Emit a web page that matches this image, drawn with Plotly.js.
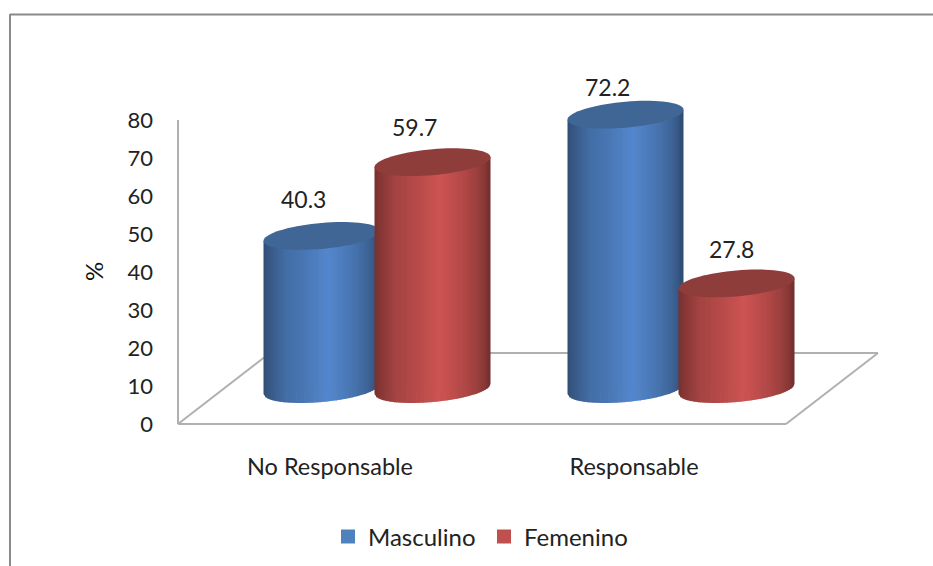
<!DOCTYPE html>
<html>
<head>
<meta charset="utf-8">
<script src="https://cdn.plot.ly/plotly-3.0.1.min.js"></script>
<style>html,body{margin:0;padding:0;background:#fff}#chart{width:933px;height:566px}</style>
</head>
<body>
<div id="chart"></div>
<script>
// Percentages by sex for each responsibility group
var categories = ['No Responsable', 'Responsable'];
var masculino = [40.3, 72.2];
var femenino = [59.7, 27.8];
var axisTicks = [0, 10, 20, 30, 40, 50, 60, 70, 80];

// Scale of the plot area, in pixels per data unit
var PX_X = 304, PX_Y = 3.8;

// Fake 3D floor depth and cylinder proportions, in data units
var FLOOR_DX = 92 / PX_X, FLOOR_DY = 71 / PX_Y;
var LIFT = 9.2;
var HALF_W = 58 / PX_X, RY = 13 / PX_Y, TILT = 5 / PX_Y;
var STRIPS = 64;

// Brightness across a cylinder, from its left edge to its right edge
var shadePos = [0, 0.06, 0.18, 0.35, 0.56, 0.75, 0.9, 1];
var shadeVal = [0.58, 0.66, 0.8, 0.88, 1, 0.88, 0.74, 0.55];

var seriesList = [
  {name: 'Masculino', values: masculino, shift: -8.5 / PX_X, bar: '#4f81bd', light: [83, 135, 204], lid: '#3f6694',
   labelDx: [-18.5, -18.5], labelUp: [36.5, 27.5]},
  {name: 'Femenino', values: femenino, shift: 102.5 / PX_X, bar: '#c0504d', light: [205, 84, 82], lid: '#8f3d3b',
   labelDx: [-18.5, -5], labelUp: [35, 34.5]}
];

function shadeAt(p) {
  for (var i = 1; i < shadePos.length; i++) {
    if (p <= shadePos[i]) {
      var f = (p - shadePos[i - 1]) / (shadePos[i] - shadePos[i - 1]);
      return shadeVal[i - 1] + f * (shadeVal[i] - shadeVal[i - 1]);
    }
  }
  return shadeVal[shadeVal.length - 1];
}

// Lower rim of an ellipse at position u in [-1, 1]
function rimY(cy, u) {
  return cy + TILT * u - RY * Math.sqrt(Math.max(0, 1 - u * u));
}

function cylinderShapes(cx, value, s) {
  var out = [];
  var top = LIFT + value;
  for (var i = 0; i < STRIPS; i++) {
    var u0 = -1 + 2 * i / STRIPS, u1 = -1 + 2 * (i + 1) / STRIPS;
    var ue = i === STRIPS - 1 ? u1 : u1 + 0.012;
    var k = shadeAt((i + 0.5) / STRIPS);
    var col = 'rgb(' + s.light.map(function (c) { return Math.round(c * k); }).join(',') + ')';
    var x0 = cx + HALF_W * u0, x1 = cx + HALF_W * ue;
    var path = 'M' + x0 + ',' + (top + TILT * u0) +
      ' L' + x1 + ',' + (top + TILT * ue) +
      ' L' + x1 + ',' + rimY(LIFT, Math.min(ue, 1)) +
      ' L' + x0 + ',' + rimY(LIFT, u0) + ' Z';
    out.push({type: 'path', xref: 'x', yref: 'y', path: path, fillcolor: col, line: {width: 0}, layer: 'above'});
  }
  // Top face of the cylinder, a tilted ellipse
  var pts = [];
  for (var a = 0; a < 72; a++) {
    var t = a / 72 * 2 * Math.PI, u = Math.cos(t);
    pts.push((cx + HALF_W * u) + ',' + (top + TILT * u + RY * Math.sin(t)));
  }
  out.push({type: 'path', xref: 'x', yref: 'y', path: 'M' + pts.join(' L') + ' Z', fillcolor: s.lid, line: {width: 0}, layer: 'above'});
  return out;
}

var AXIS_GREY = '#b0b0b0';
var floorLine = {color: AXIS_GREY, width: 2};
var shapes = [
  {type: 'line', xref: 'x', yref: 'y', x0: -0.5, x1: -0.5, y0: 0, y1: 80, line: floorLine, layer: 'below'},
  {type: 'line', xref: 'x', yref: 'y', x0: -0.5, x1: 1.5, y0: 0, y1: 0, line: floorLine, layer: 'below'},
  {type: 'line', xref: 'x', yref: 'y', x0: -0.5, x1: -0.5 + FLOOR_DX, y0: 0, y1: FLOOR_DY, line: floorLine, layer: 'below'},
  {type: 'line', xref: 'x', yref: 'y', x0: 1.5, x1: 1.5 + FLOOR_DX, y0: 0, y1: FLOOR_DY, line: floorLine, layer: 'below'},
  {type: 'line', xref: 'x', yref: 'y', x0: -0.5 + FLOOR_DX, x1: 1.5 + FLOOR_DX, y0: FLOOR_DY, y1: FLOOR_DY, line: floorLine, layer: 'below'}
];

// Outer frame of the figure, placed relative to the plot area
var M = {l: 170, r: 43, t: 60, b: 134, autoexpand: false};
var PLOT_W = 933 - M.l - M.r, PLOT_H = 566 - M.t - M.b;
function paperX(px) { return (px - M.l) / PLOT_W; }
function paperY(py) { return (566 - M.b - py) / PLOT_H; }
var frame = {color: '#8a8a8a', width: 2};
shapes.push({type: 'line', xref: 'paper', yref: 'paper', x0: paperX(10), x1: paperX(10), y0: paperY(14), y1: paperY(566), line: frame});
shapes.push({type: 'line', xref: 'paper', yref: 'paper', x0: paperX(10), x1: paperX(933), y0: paperY(14.5), y1: paperY(14.5), line: frame});

var traces = [];
var annotations = [];
var xPositions = categories.map(function (_, i) { return i; });
var barWidth = 2 * HALF_W * 0.85;

seriesList.forEach(function (s) {
  traces.push({
    type: 'bar', name: s.name, x: xPositions, y: s.values, base: LIFT,
    width: barWidth, offset: s.shift - barWidth / 2,
    marker: {color: s.bar, line: {width: 2, color: s.bar}},
    hovertemplate: s.name + ': %{y}<extra></extra>'
  });
  s.values.forEach(function (v, i) {
    shapes = shapes.concat(cylinderShapes(i + s.shift, v, s));
    annotations.push({
      xref: 'x', yref: 'y', x: i + s.shift + s.labelDx[i] / PX_X, y: LIFT + v + s.labelUp[i] / PX_Y,
      text: v.toFixed(1), showarrow: false, xanchor: 'center', yanchor: 'middle',
      font: {family: 'Lato', size: 23, color: '#222'}
    });
  });
});

annotations.push({
  xref: 'paper', yref: 'paper', x: paperX(93), y: paperY(272), text: '%', textangle: -90, showarrow: false,
  xanchor: 'center', yanchor: 'middle', font: {family: 'Lato', size: 24, color: '#111'}
});

var layout = {
  width: 933, height: 566, margin: M, showlegend: true, barmode: 'overlay',
  paper_bgcolor: '#fff', plot_bgcolor: '#fff',
  font: {family: 'Lato', size: 21, color: '#222'},
  xaxis: {
    range: [(M.l - 330) / PX_X, (933 - M.r - 330) / PX_X],
    tickmode: 'array', tickvals: xPositions, ticktext: categories,
    showgrid: false, zeroline: false, showline: false, ticks: '', ticklabelstandoff: 18,
    tickfont: {family: 'Lato', size: 23.5, color: '#222'}
  },
  yaxis: {
    range: [-(566 - M.b - 424) / PX_Y, (424 - M.t) / PX_Y],
    tickmode: 'array', tickvals: axisTicks,
    showgrid: false, zeroline: false, showline: false, ticks: '', ticklabelstandoff: 16,
    tickfont: {family: 'Lato', size: 22, color: '#222'}
  },
  legend: {
    orientation: 'h', x: paperX(328), xanchor: 'left', y: paperY(537), yanchor: 'middle',
    entrywidth: 111, entrywidthmode: 'pixels',
    font: {family: 'Lato', size: 24, color: '#222'}, bgcolor: 'rgba(0,0,0,0)'
  },
  shapes: shapes, annotations: annotations
};

Plotly.newPlot('chart', traces, layout, {displayModeBar: false, staticPlot: true});
</script>
</body>
</html>
